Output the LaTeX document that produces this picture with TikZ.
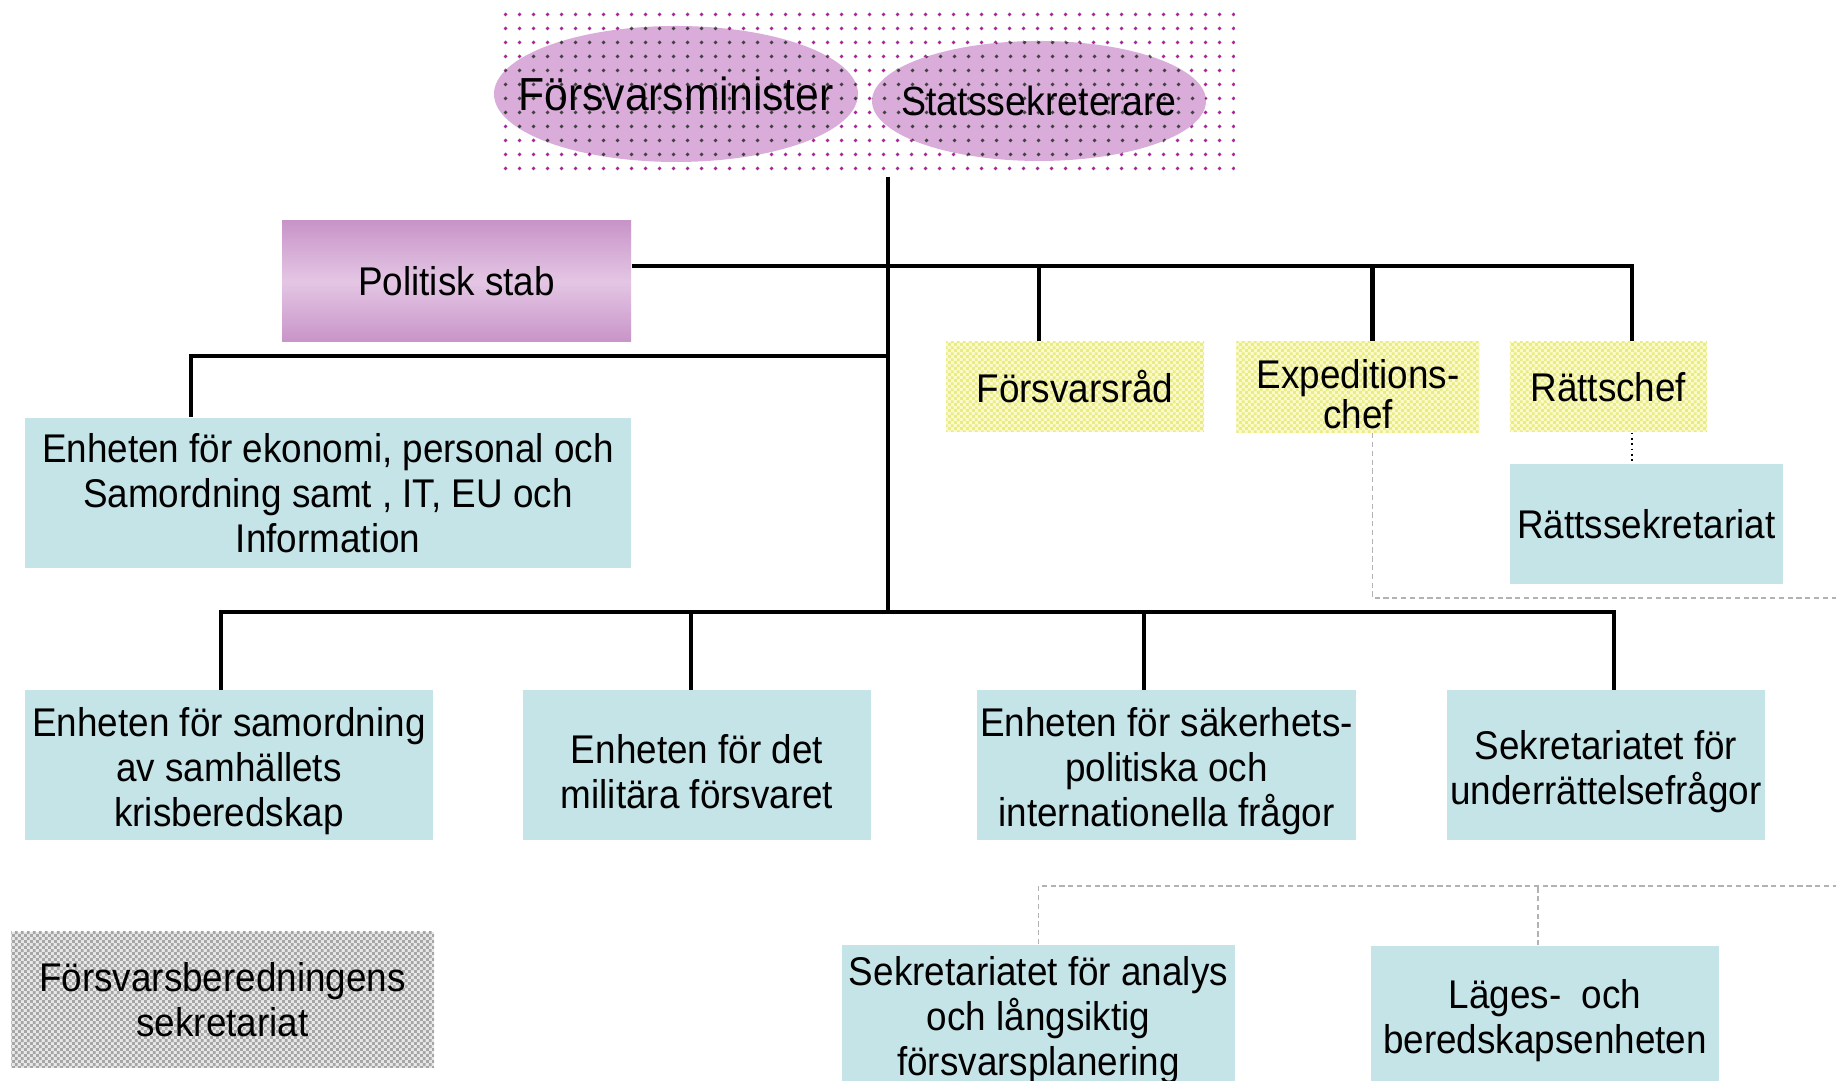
\documentclass[tikz,border=0pt]{standalone}
\usepackage{fontspec}
\setmainfont[FakeStretch=0.92]{Liberation Sans}
\usetikzlibrary{shapes,positioning,patterns,patterns.meta,calc}

\definecolor{ljusbla}{RGB}{197,228,232}
\definecolor{lila}{RGB}{200,148,200}
\definecolor{ljuslila}{RGB}{228,198,228}
\definecolor{ellipslila}{RGB}{218,172,218}
\definecolor{prick}{RGB}{165,40,150}
\definecolor{gulbas}{RGB}{250,250,204}
\definecolor{gulruta}{RGB}{234,236,130}

% fine checker pattern
\pgfdeclarepatternformonly{finruta}{\pgfpointorigin}{\pgfqpoint{1.8pt}{1.8pt}}{\pgfqpoint{1.8pt}{1.8pt}}{%
  \pgfpathrectangle{\pgfpointorigin}{\pgfqpoint{0.9pt}{0.9pt}}%
  \pgfpathrectangle{\pgfqpoint{0.9pt}{0.9pt}}{\pgfqpoint{0.9pt}{0.9pt}}%
  \pgfusepath{fill}}

\newcommand{\sank}[1]{\rule{0pt}{#1}}

\tikzset{
  textfont/.style = {font=\fontsize{11.4}{12.8}\selectfont},
  enhet/.style    = {rectangle, fill=ljusbla, align=center, inner sep=1pt, textfont, minimum height=1.5cm},
  chef/.style     = {rectangle, preaction={fill=gulbas}, pattern=finruta, pattern color=gulruta,
                     align=center, inner sep=1pt, textfont, minimum height=0.9cm},
  grupp/.style    = {rectangle, preaction={fill=gray!18}, pattern=finruta, pattern color=gray!70,
                     align=center, inner sep=1pt, textfont},
  stab/.style     = {rectangle, top color=lila, bottom color=lila, middle color=ljuslila, textfont},
  ledamot/.style  = {fill=ellipslila, postaction={pattern={Dots[distance=4pt,radius=0.6pt]}, pattern color=black!75}},
  linje/.style    = {line width=1.2pt},
  streck/.style   = {gray!60, dash pattern=on 1.5pt off 1pt, line width=0.4pt},
  prickad/.style  = {densely dotted, line width=0.5pt}
}

\begin{document}
\begin{tikzpicture}
  \useasboundingbox (0,0) rectangle (18.36,-10.81);

  % ledningen
  \node[minimum width=7.41cm, minimum height=1.67cm, inner sep=0pt,
        pattern={Dots[distance=4pt,radius=0.6pt]}, pattern color=prick] (ledning) at (8.645,-0.925) {};
  \coordinate (m) at (6.76,-0.94);
  \coordinate (s) at (10.39,-1.01);
  \fill[ledamot] (m) ellipse [x radius=1.82, y radius=0.68];
  \fill[ledamot] (s) ellipse [x radius=1.67, y radius=0.60];
  \node[font=\fontsize{13.2}{15}\selectfont] (minister) at (m) {Försvarsminister};
  \node[font=\fontsize{11.6}{14}\selectfont] (sekr) at (s) {Statssekreterare};

  \node[stab, minimum width=3.49cm, minimum height=1.21cm] (stab) at (4.565,-2.815) {Politisk stab};

  \node[chef, minimum width=2.58cm] (rad) at (10.75,-3.87) {Försvarsråd};
  \node[chef, minimum width=2.43cm, right=3.1mm of rad] (exp) {\sank{12.5pt}Expeditions-\\[-1.5pt]chef};
  \node[chef, minimum width=1.97cm, right=2.9mm of exp] (ratt) {Rättschef};
  \node[enhet, minimum width=2.73cm, minimum height=1.2cm,
        below right=3.1mm and 0mm of ratt.south west] (rattsekr) {Rättssekretariat};

  \node[enhet, minimum width=6.06cm] (ekon) at (3.28,-4.93)
    {Enheten för ekonomi, personal och\\Samordning samt , IT, EU och\\Information};

  \node[enhet, minimum width=4.08cm] (kris) at (2.29,-7.655) {\sank{11.5pt}Enheten för samordning\\av samhällets\\krisberedskap};
  \node[enhet, minimum width=3.48cm] (mil) at (6.97,-7.655) {\sank{11.5pt}Enheten för det\\militära försvaret};
  \node[enhet, minimum width=3.77cm] (sak) at (11.665,-7.655) {\sank{11.5pt}Enheten för säkerhets-\\politiska och\\internationella frågor};
  \node[enhet, minimum width=3.18cm] (und) at (16.06,-7.655) {\sank{11.5pt}Sekretariatet för\\underrättelsefrågor};

  \node[enhet, minimum width=3.93cm, minimum height=1.4cm] (analys) at (10.385,-10.16)
    {\sank{10.5pt}Sekretariatet för analys\\och långsiktig\\försvarsplanering};
  \node[enhet, minimum width=3.48cm, minimum height=1.4cm] (lages) at (15.45,-10.16) {\sank{11pt}Läges-~ och\\beredskapsenheten};

  \node[grupp, minimum width=4.23cm, minimum height=1.36cm] (beredn) at (2.225,-10.0)
    {Försvarsberedningens\\sekretariat};

  % linjer
  \coordinate (h1) at (8.88,-2.66);
  \coordinate (h2) at (8.88,-3.56);
  \coordinate (buss) at (8.88,-6.12);
  \coordinate (rad n)  at ([xshift=-3.6mm]rad.north);
  \coordinate (exp n)  at ([xshift=1.45mm]exp.north);
  \coordinate (ratt n) at ([xshift=2.35mm]ratt.north);
  \coordinate (ekon n) at ([xshift=-13.7mm]ekon.north);
  \coordinate (kris n) at ([xshift=-0.8mm]kris.north);
  \coordinate (mil n)  at ([xshift=-0.6mm]mil.north);
  \coordinate (sak n)  at ([xshift=-2.25mm]sak.north);
  \coordinate (und n)  at ([xshift=0.8mm]und.north);
  \coordinate (lages n) at ([xshift=-0.7mm]lages.north);
  \coordinate (kant1) at (18.36,-5.98);
  \coordinate (kant2) at (18.36,-8.86);

  \draw[linje] (ledning.south -| buss) -- (buss);
  \draw[linje] (stab.east |- h1) -- (h1 -| ratt n) -- (ratt n);
  \draw[linje] (rad n) -- (rad n |- h1);
  \draw[linje] (exp n) -- (exp n |- h1);
  \draw[linje] (h2) -| (ekon n);
  \draw[linje] (kris n) |- (buss) -| (und n);
  \draw[linje] (mil n) -- (mil n |- buss);
  \draw[linje] (sak n) -- (sak n |- buss);

  \draw[prickad] (ratt n |- ratt.south) -- (ratt n |- rattsekr.north);
  \draw[streck] (exp n |- exp.south) |- (kant1);
  \draw[streck] (analys.north) |- (kant2);
  \draw[streck] (lages n) -- (lages n |- kant2);
\end{tikzpicture}
\end{document}
